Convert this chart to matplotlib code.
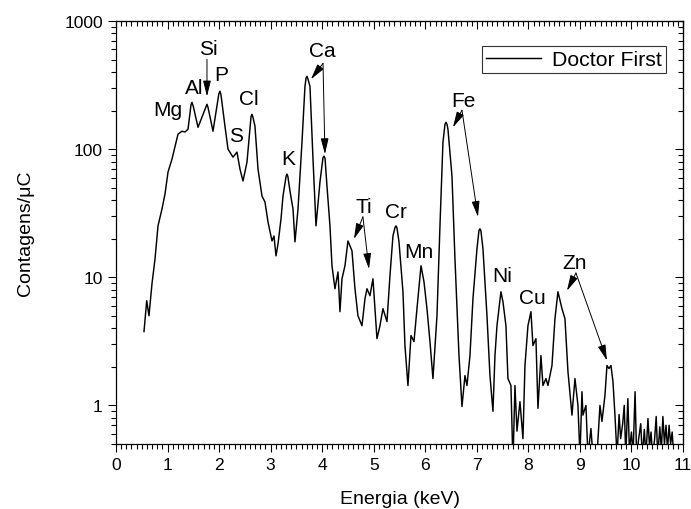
import matplotlib
matplotlib.use("Agg")
import matplotlib.pyplot as plt
from matplotlib.ticker import MultipleLocator, LogLocator, NullFormatter, FixedLocator, FuncFormatter

plt.rcParams['font.family'] = ['Liberation Sans', 'DejaVu Sans']

energy = [0.543, 0.596, 0.640, 0.698, 0.757, 0.815, 0.892, 0.951, 1.009, 1.086,
          1.145, 1.203, 1.280, 1.338, 1.397, 1.455, 1.474, 1.50, 1.591, 1.745, 1.765, 1.785,
          1.882, 1.995, 2.017, 2.037,
          2.114, 2.173, 2.270, 2.347, 2.405, 2.464, 2.541, 2.62, 2.638, 2.656, 2.696, 2.755,
          2.832, 2.890, 2.949, 3.026, 3.065, 3.104, 3.143, 3.201, 3.240, 3.30, 3.317, 3.335,
          3.375, 3.434, 3.472, 3.531, 3.608, 3.666, 3.688, 3.705, 3.722, 3.763, 3.822, 3.880,
          3.957, 4.015, 4.035, 4.055, 4.093, 4.151, 4.190, 4.248, 4.307, 4.345, 4.384, 4.442,
          4.500, 4.578, 4.636, 4.694, 4.772, 4.830, 4.869, 4.927, 4.985, 5.063,
          5.121, 5.179, 5.257, 5.315, 5.373, 5.412, 5.432, 5.452, 5.490, 5.567, 5.606, 5.664,
          5.723, 5.781, 5.839, 5.917, 5.975, 6.033, 6.091, 6.149, 6.227, 6.285,
          6.343, 6.382, 6.402, 6.422, 6.440, 6.518, 6.576, 6.654, 6.712, 6.770, 6.809, 6.867,
          6.925, 7.003, 7.042, 7.061, 7.080, 7.119, 7.197, 7.255, 7.313, 7.352, 7.391, 7.468,
          7.507, 7.565, 7.604, 7.662, 7.701, 7.740, 7.779, 7.837, 7.895, 7.934,
          7.992, 8.050, 8.089, 8.147, 8.186, 8.244, 8.283, 8.341, 8.380, 8.458,
          8.516, 8.574, 8.652, 8.710, 8.768, 8.846, 8.904, 8.962, 9.001, 9.040,
          9.059, 9.117, 9.156, 9.214, 9.253, 9.331, 9.389, 9.428, 9.486, 9.525,
          9.564, 9.602, 9.641, 9.680,
          9.72, 9.76, 9.79, 9.83, 9.86, 9.89, 9.93, 9.96, 10.00, 10.03,
          10.07, 10.10, 10.14, 10.18, 10.21, 10.25, 10.28, 10.32, 10.35, 10.38,
          10.41, 10.45, 10.48, 10.51, 10.55, 10.58, 10.61, 10.64, 10.67, 10.70,
          10.73, 10.76, 10.79, 10.82]
counts = [3.77, 6.56, 5.01, 8.90, 13.9, 25.2, 34.1, 44.7, 66.2, 83.6,
          105, 131, 138, 136, 143, 222, 232, 215, 148, 214, 224, 212,
          138, 270, 283, 265,
          151, 100, 86.6, 94.8, 69.9, 56.4, 79.2, 180, 187, 178, 151, 69.9,
          43.1, 38.7, 27.0, 19.2, 21.0, 14.7, 18.2, 28.5, 43.1, 61.5, 63.9, 61.0,
          47.1, 34.1, 18.9, 34.1, 113, 309, 360, 370, 355, 309, 83.6, 25.2,
          55.4, 85.5, 88.2, 85.0, 51.5, 25.2, 12.3, 8.14, 11.0, 5.39, 9.73, 12.3,
          19.2, 16.1, 8.14, 5.01, 4.19, 6.80, 8.14, 7.18, 9.73, 3.32,
          4.19, 5.69, 4.51, 10.3, 21.0, 24.4, 25.2, 24.2, 18.9, 7.71, 2.93, 1.43,
          3.51, 3.15, 5.69, 12.3, 9.22, 5.69, 3.15, 1.62, 5.01, 25.2,
          113, 156, 162, 156, 143, 61.6, 13.9, 2.45, 0.98, 1.71, 1.43, 2.45,
          6.80, 16.7, 23.2, 23.9, 23.0, 16.7, 5.01, 1.71, 0.90, 2.45, 4.19, 7.71,
          6.45, 4.19, 1.62, 1.43, 0.35, 1.43, 0.63, 1.07, 0.55, 2.05,
          4.19, 5.39, 2.93, 3.32, 0.95, 2.45, 1.43, 1.62, 1.43, 2.05,
          4.75, 7.71, 5.69, 4.75, 1.84, 0.84, 1.62, 1.00, 0.40, 1.28,
          0.84, 1.00, 0.40, 0.66, 0.40, 0.40, 1.00, 0.75, 1.20, 2.05,
          1.94, 2.05, 1.54, 0.84,
          0.40, 0.85, 0.55, 0.72, 1.00, 0.40, 1.13, 0.45, 0.62, 0.40,
          1.28, 0.40, 0.55, 0.72, 0.40, 0.65, 0.40, 0.79, 0.48, 0.62,
          0.40, 0.55, 0.82, 0.40, 0.68, 0.45, 0.82, 0.50, 0.70, 0.45,
          0.70, 0.50, 0.62, 0.40]

series_name = "Doctor First"

# element labels: (text, x, y)
labels = [("Mg", 1.009, 205), ("Al", 1.513, 304), ("Si", 1.785, 611),
          ("P", 2.037, 383), ("S", 2.328, 128), ("Cl", 2.580, 249),
          ("K", 3.337, 85.1), ("Ca", 3.996, 589), ("Ti", 4.811, 35.4),
          ("Cr", 5.432, 32.9), ("Mn", 5.878, 15.8), ("Fe", 6.731, 241),
          ("Ni", 7.488, 10.3), ("Cu", 8.070, 6.93), ("Zn", 8.904, 13.0)]

# arrows: (start x, start y, tip x, tip y)
arrows = [(1.765, 501, 1.765, 258),
          (4.016, 467, 3.783, 351), (4.016, 467, 4.054, 91.4),
          (4.79, 29.6, 4.617, 19.9), (4.79, 29.6, 4.908, 11.6),
          (6.712, 201, 6.537, 148), (6.712, 201, 7.022, 29.6),
          (8.923, 10.8, 8.749, 7.85), (8.923, 10.8, 9.525, 2.24)]

fig = plt.figure(figsize=(6.91, 5.10), dpi=100)
ax = fig.add_axes([116/691, 1-445/510, (683-116)/691, (445-22)/510])

ax.plot(energy, counts, color='black', lw=1.05, label=series_name)
ax.set_yscale('log')
ax.set_xlim(0, 11)
ax.set_ylim(0.5, 1000)

ax.xaxis.set_major_locator(MultipleLocator(1))
ax.xaxis.set_minor_locator(MultipleLocator(0.1))
ax.yaxis.set_major_locator(FixedLocator([1, 10, 100, 1000]))
ax.yaxis.set_major_formatter(FuncFormatter(lambda v, p: f"{v:g}"))
ax.yaxis.set_minor_locator(LogLocator(base=10, subs=range(2, 10), numticks=20))
ax.yaxis.set_minor_formatter(NullFormatter())

ax.tick_params(axis='both', which='both', direction='out', labelsize=12.6, width=0.8)
ax.tick_params(axis='both', which='major', length=6)
ax.tick_params(axis='both', which='minor', length=3.5)

secx = ax.secondary_xaxis('top')
secx.xaxis.set_major_locator(MultipleLocator(1))
secx.xaxis.set_minor_locator(MultipleLocator(0.1))
secx.tick_params(axis='x', which='both', direction='in', labeltop=False, width=0.8)
secx.tick_params(which='major', length=6)
secx.tick_params(which='minor', length=3.5)

secy = ax.secondary_yaxis('right')
secy.yaxis.set_major_locator(FixedLocator([1, 10, 100, 1000]))
secy.yaxis.set_minor_locator(LogLocator(base=10, subs=range(2, 10), numticks=20))
secy.yaxis.set_minor_formatter(NullFormatter())
secy.tick_params(axis='y', which='both', direction='in', labelright=False, width=0.8)
secy.tick_params(which='major', length=6)
secy.tick_params(which='minor', length=3.5)

for sp in ax.spines.values():
    sp.set_linewidth(0.9)

ax.set_xlabel("Energia (keV)", fontsize=14, labelpad=13)
ax.set_ylabel("Contagens/μC", fontsize=14, labelpad=22)

for t, x, y in labels:
    ax.text(x, y, t, fontsize=15, ha='center', va='center')

for x0, y0, x1, y1 in arrows:
    ax.annotate('', xy=(x1, y1), xytext=(x0, y0),
                arrowprops=dict(arrowstyle='-|>,head_length=0.8,head_width=0.2',
                                color='black', lw=0.7, shrinkA=0, shrinkB=0,
                                mutation_scale=12))

leg = ax.legend(loc='upper right', bbox_to_anchor=(0.970, 0.941), fontsize=15.3,
                frameon=True, fancybox=False, borderaxespad=0, handlelength=2.6,
                borderpad=0.2, handletextpad=0.5)
leg.get_frame().set_edgecolor('black')
leg.get_frame().set_linewidth(0.8)

fig.savefig("out.png", dpi=100)
